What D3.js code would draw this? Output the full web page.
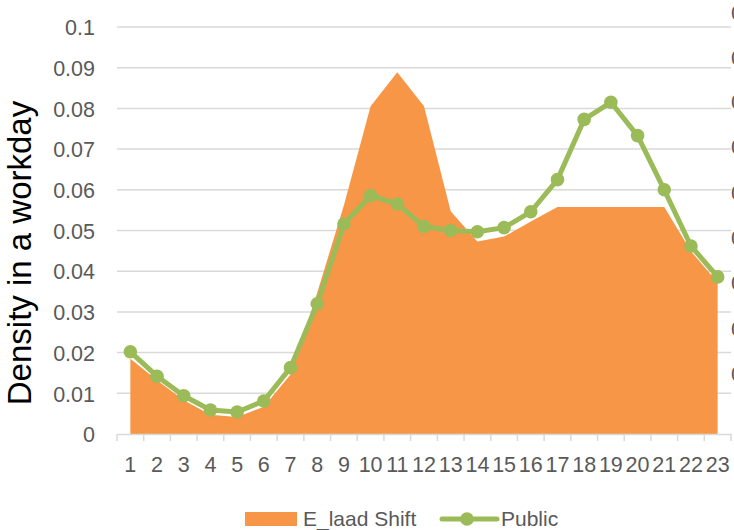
<!DOCTYPE html>
<html>
<head>
<meta charset="utf-8">
<script src="https://cdn.jsdelivr.net/npm/d3@7"></script>
<style>
html,body{margin:0;padding:0;background:#fff;overflow:hidden;}
svg{display:block;}
</style>
</head>
<body>
<svg id="chart" width="734" height="530"></svg>
<script>
const hours = [1,2,3,4,5,6,7,8,9,10,11,12,13,14,15,16,17,18,19,20,21,22,23];
const eLaadShift = [0.0185,0.0132,0.0083,0.0047,0.0042,0.0067,0.0146,0.0347,0.0562,0.0805,0.0889,0.0805,0.0547,0.0473,0.0485,0.0522,0.0558,0.0558,0.0558,0.0558,0.0558,0.0449,0.0372];
const publicSeries = [0.0202,0.0142,0.0094,0.0059,0.0054,0.0081,0.0163,0.0320,0.0516,0.0586,0.0565,0.0510,0.0500,0.0497,0.0507,0.0546,0.0625,0.0773,0.0815,0.0733,0.0600,0.0462,0.0386];
const yTicks = [0,0.01,0.02,0.03,0.04,0.05,0.06,0.07,0.08,0.09,0.1];
const yTickLabels = ["0","0.01","0.02","0.03","0.04","0.05","0.06","0.07","0.08","0.09","0.1"];
const seriesNames = ["E_laad Shift","Public"];
const yTitle = "Density in a workday";
// partially visible labels of a neighbouring axis cut off at the right edge (as in the reference)
const clippedLabels = ["0","0","0","0","0","0","0","0","0"];
const clippedLabelY = [12,57,101,146,192,237,282,328,373];

const orange = "#F79646", green = "#9BBB59", grid = "#D9D9D9", txt = "#595959";
const font = "'Liberation Sans', Arial, sans-serif";

const svg = d3.select("#chart");
const x = d3.scaleBand().domain(hours).range([117,731]).padding(0);
const y = d3.scaleLinear().domain([0,0.1]).range([434,27]);
const cx = d => x(d) + x.bandwidth()/2;

// gridlines
svg.append("g").selectAll("line").data(yTicks.slice(1)).join("line")
  .attr("x1",117).attr("x2",731)
  .attr("y1",d=>y(d)).attr("y2",d=>y(d))
  .attr("stroke",grid).attr("stroke-width",1.5);

// area
const area = d3.area().x((d,i)=>cx(hours[i])).y0(y(0)).y1(d=>y(d));
svg.append("path").datum(eLaadShift).attr("d",area).attr("fill",orange);

// x axis
const xAxis = d3.axisBottom(x).tickSize(0).tickFormat(d=>d);
const gx = svg.append("g").attr("transform",`translate(0,${y(0)})`).call(xAxis);
gx.select(".domain").attr("stroke",grid).attr("stroke-width",1.5);
gx.selectAll("text").attr("font-family",font).attr("font-size",21.5).attr("fill",txt)
  .attr("dy",null).attr("y",38);
// tick marks at band boundaries
const bounds = hours.map(h=>x(h)).concat([x(hours[hours.length-1])+x.bandwidth()]);
svg.append("g").selectAll("line").data(bounds).join("line")
  .attr("x1",d=>d).attr("x2",d=>d).attr("y1",y(0)).attr("y2",y(0)+7)
  .attr("stroke",grid).attr("stroke-width",1.5);

// y axis labels
const yAxis = d3.axisLeft(y).tickValues(yTicks).tickSize(0).tickFormat((d,i)=>yTickLabels[i]);
const gy = svg.append("g").attr("transform","translate(95,0)").call(yAxis);
gy.select(".domain").remove();
gy.selectAll("text").attr("font-family",font).attr("font-size",21.5).attr("fill",txt)
  .attr("x",0).attr("dy","0.36em");

// line
const line = d3.line().x((d,i)=>cx(hours[i])).y(d=>y(d));
svg.append("path").datum(publicSeries).attr("d",line).attr("fill","none")
  .attr("stroke",green).attr("stroke-width",5).attr("stroke-linejoin","round");
svg.append("g").selectAll("circle").data(publicSeries).join("circle")
  .attr("cx",(d,i)=>cx(hours[i])).attr("cy",d=>y(d)).attr("r",6.8).attr("fill",green);

// y title
svg.append("text").attr("transform","translate(31,253) rotate(-90)")
  .attr("text-anchor","middle").attr("font-family",font).attr("font-size",33)
  .attr("fill","#000").text(yTitle);

// legend
const lg = svg.append("g");
lg.append("rect").attr("x",245).attr("y",512).attr("width",52).attr("height",14).attr("fill",orange);
lg.append("text").attr("x",303).attr("y",526).attr("font-family",font).attr("font-size",21)
  .attr("fill",txt).text(seriesNames[0]);
lg.append("line").attr("x1",442).attr("x2",497).attr("y1",519).attr("y2",519)
  .attr("stroke",green).attr("stroke-width",5).attr("stroke-linecap","round");
lg.append("circle").attr("cx",467).attr("cy",519).attr("r",6.8).attr("fill",green);
lg.append("text").attr("x",501).attr("y",526).attr("font-family",font).attr("font-size",21)
  .attr("fill",txt).text(seriesNames[1]);

// clipped labels on right edge
svg.append("g").selectAll("text").data(clippedLabels).join("text")
  .attr("x",731).attr("y",(d,i)=>clippedLabelY[i]).attr("dy","0.36em")
  .attr("font-family",font).attr("font-size",21).attr("fill",txt).text(d=>d);
</script>
</body>
</html>
